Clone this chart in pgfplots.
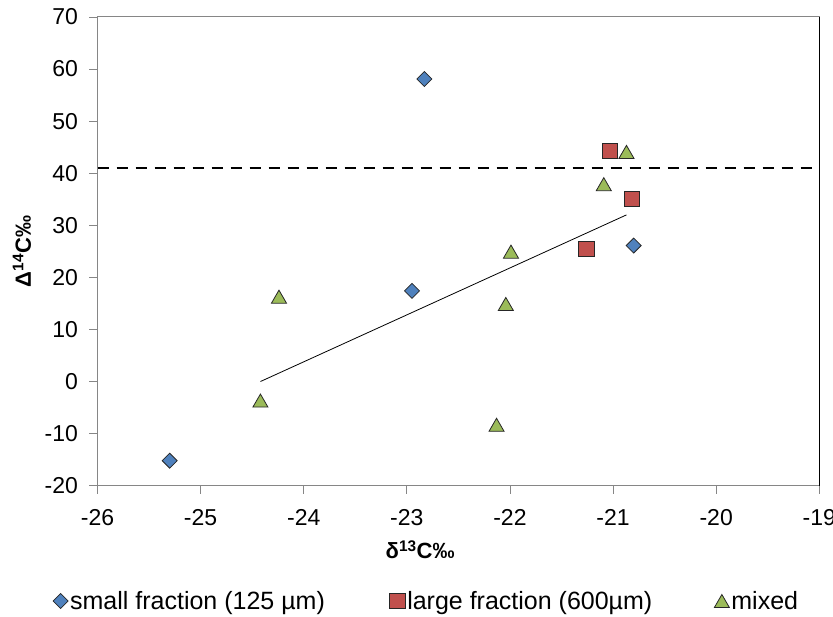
\documentclass[border=0pt]{standalone}
\usepackage{fontspec}
\setmainfont{Liberation Sans}
\usepackage{pgfplots}
\pgfplotsset{compat=1.18}
\definecolor{cblue}{HTML}{4F81BD}
\definecolor{cred}{HTML}{C0504D}
\definecolor{cgreen}{HTML}{9BBB59}
\definecolor{axgray}{HTML}{868686}
\begin{document}
\begin{tikzpicture}
\path[use as bounding box] (0,0) rectangle (833pt,617pt);
\begin{axis}[
  at={(97.5pt,131.3pt)}, anchor=south west,
  scale only axis, width=721.8pt, height=468.7pt,
  xmin=-26, xmax=-19, ymin=-20, ymax=70,
  xtick={-26,-25,...,-19}, ytick={-20,-10,...,70},
  tick align=outside, major tick length=8pt,
  xtick pos=left, ytick pos=left,
  tick style={axgray, line width=0.8pt},
  axis line style={axgray, line width=1pt},
  /pgf/number format/assume math mode=true,
  ticklabel style={font=\fontsize{23}{27}\selectfont},
  yticklabel style={xshift=-8pt},
  xticklabel style={yshift=-12pt},
  xlabel={\textbf{δ\textsuperscript{13}C‰}},
  ylabel={\textbf{Δ\textsuperscript{14}C‰}},
  every axis x label/.style={at={(axis description cs:0.447,-0.137)}, anchor=center, font=\fontsize{22}{26}\selectfont},
  every axis y label/.style={at={(axis description cs:-0.1046,0.5)}, anchor=center, rotate=90, font=\fontsize{22}{26}\selectfont},
  legend columns=3,
  legend style={draw=none, fill=none, at={(axis description cs:0.456,-0.246)}, anchor=center,
    font=\fontsize{25}{30}\selectfont,
    /tikz/column 2/.style={column sep=63pt},
    /tikz/column 4/.style={column sep=60pt},
    nodes={inner sep=2pt}},
  legend image code/.code={\draw[#1] plot coordinates {(6pt,0pt)};},
  after end axis/.code={\draw[black, line width=1pt] (rel axis cs:1,0) -- (rel axis cs:1,1);},
]
\addplot[only marks, mark=square*, mark size=5.3pt, mark options={rotate=45, fill=cblue, draw=black!85, line width=0.8pt}]
  coordinates {(-25.30,-15.2) (-22.83,58.1) (-22.95,17.4) (-20.80,26.1)};
\addlegendentry{small fraction (125 µm)}
\addplot[only marks, mark=square*, mark size=7.7pt, mark options={fill=cred, draw=black!85, line width=0.8pt}]
  coordinates {(-21.03,44.3) (-20.82,35.1) (-21.26,25.5)};
\addlegendentry{large fraction (600µm)}
\addplot[only marks, mark=triangle*, mark size=8.7pt, mark options={fill=cgreen, draw=black!85, line width=0.8pt, yshift=-2.2pt}]
  coordinates {(-20.87,44.1) (-21.09,37.9) (-21.99,24.95) (-22.04,14.9) (-24.24,16.3) (-24.42,-3.65) (-22.13,-8.3)};
\addlegendentry{mixed}
\addplot[black, line width=0.8pt, forget plot] coordinates {(-24.42,0.0) (-20.87,32.0)};
\addplot[black, line width=2.6pt, dash pattern=on 11pt off 8pt, forget plot] coordinates {(-26,41) (-19,41)};
\end{axis}
\end{tikzpicture}
\end{document}
